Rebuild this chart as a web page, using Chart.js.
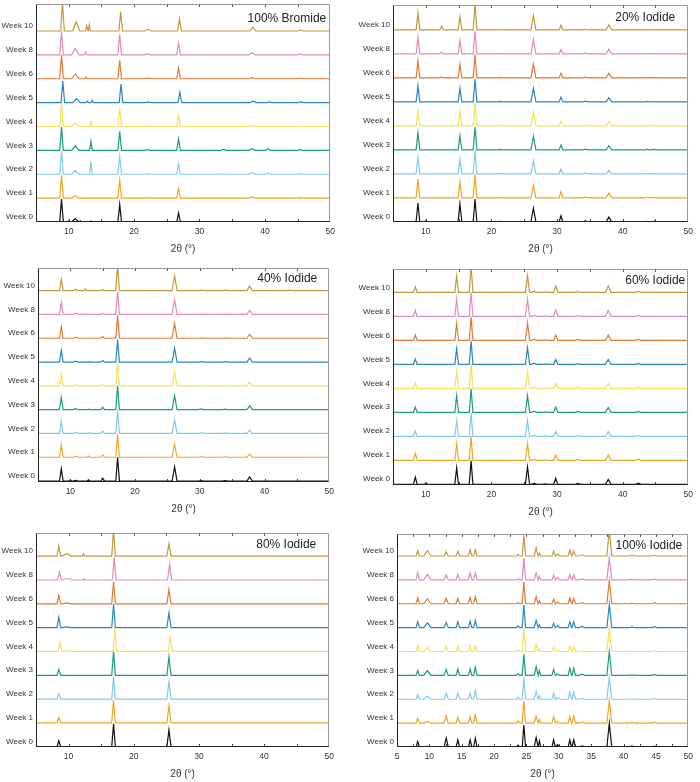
<!DOCTYPE html>
<html>
<head>
<meta charset="utf-8">
<script src="https://cdn.jsdelivr.net/npm/chart.js@4.4.1/dist/chart.umd.min.js"></script>
<style>
  html, body { margin: 0; padding: 0; background: #fff; overflow: hidden; }
  #wrap { position: relative; width: 700px; height: 782px; }
  #wrap canvas { position: absolute; }
</style>
</head>
<body>
<div id="wrap"></div>
<script>
// ---- data ----
const WEEKS = ['Week 0', 'Week 1', 'Week 2', 'Week 3', 'Week 4', 'Week 5', 'Week 6', 'Week 8', 'Week 10'];
const WEEK_COLORS = ['#111111', '#EFA726', '#86C8EC', '#1E9E78', '#F2E25C', '#2E86C1', '#E07A38', '#E08DBB', '#C19A3E'];
const X_TICKS = [10, 20, 30, 40, 50];
const X_TICKS_FIVE = [5, 10, 15, 20, 25, 30, 35, 40, 45, 50];

// 100% Bromide: peak positions (2θ), half widths, heights per week
const BR_POS = [8.9, 10.0, 11.0, 11.8, 12.6, 13.0, 13.4, 17.8, 22.0, 26.8, 33.7, 38.0, 40.5, 45.3];
const BR_HW = [0.28, 0.2, 0.55, 0.2, 0.2, 0.15, 0.2, 0.28, 0.48, 0.28, 0.38, 0.48, 0.38, 0.38];
const BR_SHIFT = [0, 0, 0, 0, 0, 0.2, 0, 0, 0.15];
const BR_H = [
  [0.96, 0.05, 0.14, 0.05, 0, 0, 0.04, 0.73, 0.02, 0.38, 0, 0.02, 0, 0.02],
  [0.96, 0, 0.10, 0, 0, 0, 0, 0.75, 0.02, 0.41, 0, 0.04, 0, 0.03],
  [0.96, 0, 0.16, 0, 0, 0, 0.55, 0.75, 0.03, 0.45, 0.03, 0.06, 0.06, 0.03],
  [0.98, 0, 0.20, 0, 0, 0, 0.37, 0.80, 0.03, 0.48, 0.05, 0.07, 0.07, 0.04],
  [0.96, 0, 0.15, 0, 0, 0, 0.22, 0.78, 0.02, 0.46, 0, 0.05, 0, 0.03],
  [0.90, 0, 0.17, 0, 0.06, 0, 0.10, 0.78, 0.03, 0.44, 0, 0.06, 0.03, 0.04],
  [1.00, 0, 0.20, 0, 0.07, 0, 0, 0.77, 0.03, 0.45, 0, 0.05, 0, 0.03],
  [0.96, 0, 0.27, 0, 0.12, 0, 0, 0.86, 0.05, 0.50, 0, 0.10, 0, 0.04],
  [1.20, 0, 0.38, 0, 0.23, 0.26, 0, 0.80, 0.08, 0.52, 0, 0.16, 0, 0.04]
];

// 20% Iodide
const I20_POS = [8.8, 10.0, 12.4, 15.2, 17.5, 21.4, 26.4, 30.6, 34.3, 37.9, 43.8, 44.8];
const I20_HW = [0.28, 0.2, 0.28, 0.28, 0.28, 0.38, 0.38, 0.28, 0.38, 0.42, 0.25, 0.25];
const I20_SHIFT = [0, 0, 0, 0, 0, 0, 0, 0, 0];
const I20_H = [
  [0.78, 0.04, 0, 0.75, 0.95, 0.02, 0.57, 0.25, 0.04, 0.20, 0.02, 0.03],
  [0.78, 0, 0, 0.67, 0.98, 0.02, 0.53, 0.26, 0.03, 0.20, 0.03, 0.03],
  [0.68, 0, 0, 0.61, 0.98, 0.02, 0.55, 0.20, 0.03, 0.15, 0.02, 0.02],
  [0.71, 0, 0, 0.59, 0.95, 0.02, 0.57, 0.20, 0.03, 0.18, 0.03, 0.03],
  [0.63, 0, 0, 0.59, 0.97, 0.02, 0.56, 0.20, 0.03, 0.18, 0.02, 0.02],
  [0.68, 0, 0, 0.57, 0.95, 0.02, 0.56, 0.20, 0.03, 0.18, 0.02, 0.02],
  [0.71, 0, 0.04, 0.57, 0.99, 0.02, 0.57, 0.20, 0.03, 0.20, 0.02, 0.02],
  [0.70, 0, 0.08, 0.55, 0.97, 0.02, 0.59, 0.18, 0.03, 0.20, 0.02, 0.02],
  [0.71, 0, 0.16, 0.55, 1.10, 0.02, 0.61, 0.20, 0.03, 0.22, 0.02, 0.02]
];

// 40% Iodide
const I40_POS = [8.6, 10.0, 10.8, 12.3, 12.8, 15.0, 17.3, 26.1, 30.2, 33.9, 37.7, 44.0];
const I40_HW = [0.28, 0.2, 0.38, 0.2, 0.2, 0.28, 0.28, 0.38, 0.38, 0.38, 0.42, 0.38];
const I40_SHIFT = [0, 0, 0, 0, 0, 0, 0, 0, 0];
const I40_H = [
  [0.52, 0.04, 0.03, 0, 0.05, 0.12, 1.00, 0.60, 0.02, 0.02, 0.18, 0],
  [0.51, 0, 0.04, 0, 0.05, 0.10, 0.96, 0.55, 0.03, 0.02, 0.13, 0],
  [0.51, 0, 0.05, 0, 0.04, 0.10, 0.99, 0.58, 0.03, 0.02, 0.14, 0],
  [0.52, 0, 0.04, 0, 0.02, 0.10, 1.00, 0.59, 0.03, 0.02, 0.16, 0],
  [0.48, 0, 0.04, 0, 0.02, 0.06, 0.99, 0.58, 0.02, 0.02, 0.16, 0],
  [0.50, 0, 0.04, 0, 0.02, 0.06, 0.96, 0.58, 0.02, 0.02, 0.17, 0],
  [0.48, 0, 0.04, 0, 0.02, 0.07, 0.96, 0.62, 0.02, 0.02, 0.17, 0],
  [0.51, 0, 0.05, 0.04, 0, 0.05, 0.96, 0.62, 0.02, 0.02, 0.17, 0],
  [0.48, 0, 0.05, 0.07, 0, 0.05, 1.10, 0.62, 0.02, 0.02, 0.19, 0.02]
];

// 60% Iodide
const I60_POS = [8.4, 10.0, 14.7, 16.9, 25.5, 26.5, 28.2, 29.8, 33.2, 37.8, 42.4];
const I60_HW = [0.28, 0.2, 0.28, 0.28, 0.32, 0.38, 0.38, 0.32, 0.38, 0.42, 0.38];
const I60_SHIFT = [0, 0, 0, 0, 0, 0, 0, 0, 0];
const I60_H = [
  [0.30, 0.04, 0.68, 0.98, 0.72, 0.05, 0.02, 0.25, 0.04, 0.20, 0.05],
  [0.30, 0, 0.69, 1.00, 0.70, 0.05, 0.02, 0.22, 0.04, 0.22, 0.06],
  [0.22, 0, 0.65, 0.98, 0.68, 0.05, 0.02, 0.20, 0.03, 0.20, 0.04],
  [0.22, 0, 0.70, 0.98, 0.70, 0.05, 0.02, 0.22, 0.04, 0.20, 0.04],
  [0.22, 0, 0.70, 1.00, 0.70, 0.05, 0.02, 0.22, 0.04, 0.20, 0.04],
  [0.22, 0, 0.65, 0.98, 0.70, 0.05, 0.02, 0.20, 0.03, 0.20, 0.04],
  [0.22, 0, 0.70, 0.98, 0.72, 0.05, 0.02, 0.22, 0.04, 0.22, 0.05],
  [0.25, 0, 0.71, 1.00, 0.72, 0.05, 0.02, 0.27, 0.03, 0.25, 0.04],
  [0.23, 0, 0.68, 1.10, 0.70, 0.05, 0.02, 0.26, 0.03, 0.26, 0.04]
];

// 80% Iodide
const I80_POS = [8.5, 9.7, 12.3, 16.9, 25.4];
const I80_HW = [0.28, 0.7, 0.2, 0.28, 0.32];
const I80_SHIFT = [0, 0, 0, 0, 0.2, 0, 0, 0.1, 0];
const I80_H = [
  [0.25, 0, 0, 0.96, 0.71],
  [0.23, 0, 0, 0.96, 0.71],
  [0.23, 0, 0, 0.96, 0.73],
  [0.25, 0, 0, 1.00, 0.77],
  [0.41, 0.03, 0, 0.96, 0.58],
  [0.44, 0.03, 0, 0.99, 0.62],
  [0.36, 0.04, 0, 0.92, 0.60],
  [0.34, 0.07, 0.05, 0.96, 0.65],
  [0.44, 0.10, 0.10, 1.10, 0.52]
];

// 100% Iodide
const I100_POS = [8.2, 9.7, 12.6, 14.4, 16.3, 17.1, 23.7, 24.6, 26.5, 27.0, 29.2, 29.8, 31.7, 32.3, 33.6, 37.8, 41.3, 44.8];
const I100_HW = [0.26, 0.55, 0.32, 0.26, 0.26, 0.26, 0.24, 0.26, 0.3, 0.2, 0.26, 0.3, 0.26, 0.26, 0.45, 0.38, 0.35, 0.35];
const I100_SHIFT = [0, 0, 0, 0, 0, 0, 0, 0, 0];
const I100_H = [
  [0.23, 0.03, 0.37, 0.30, 0.30, 0.37, 0.08, 0.92, 0.40, 0.25, 0.30, 0.10, 0.30, 0.30, 0.05, 0.99, 0.05, 0.04],
  [0.20, 0.07, 0.30, 0.25, 0.27, 0.35, 0.10, 0.95, 0.30, 0.15, 0.27, 0.06, 0.27, 0.30, 0.04, 0.95, 0.04, 0.04],
  [0.20, 0.12, 0.25, 0.25, 0.25, 0.37, 0.08, 0.92, 0.33, 0.15, 0.25, 0.06, 0.30, 0.30, 0.04, 0.92, 0.03, 0.03],
  [0.20, 0.20, 0.25, 0.27, 0.27, 0.35, 0.07, 0.88, 0.37, 0.20, 0.25, 0.06, 0.30, 0.30, 0.05, 1.00, 0.03, 0.04],
  [0.25, 0.17, 0.20, 0.22, 0.27, 0.25, 0.05, 0.97, 0.30, 0.12, 0.20, 0.06, 0.23, 0.20, 0.04, 0.97, 0.03, 0.03],
  [0.25, 0.20, 0.22, 0.25, 0.27, 0.30, 0.08, 0.96, 0.30, 0.12, 0.18, 0.08, 0.25, 0.25, 0.05, 0.96, 0.03, 0.04],
  [0.25, 0.20, 0.22, 0.22, 0.27, 0.30, 0.05, 0.92, 0.30, 0.12, 0.20, 0.06, 0.25, 0.22, 0.05, 0.96, 0.03, 0.05],
  [0.31, 0.23, 0.20, 0.23, 0.30, 0.30, 0.05, 0.93, 0.30, 0.14, 0.20, 0.10, 0.22, 0.22, 0.04, 0.93, 0.03, 0.03],
  [0.22, 0.22, 0.18, 0.20, 0.27, 0.27, 0.07, 0.86, 0.34, 0.12, 0.20, 0.08, 0.25, 0.20, 0.05, 1.10, 0.03, 0.03]
];

// ---- layout (page pixels of each plot box) ----
const PANELS = [
  { title: '100% Bromide', pos: BR_POS, hw: BR_HW, heights: BR_H, shift: BR_SHIFT, ticks: X_TICKS, minor: 5,
    box: { l: 36, r: 334, t: 0, b: 222 }, yMin: 0, yMax: 9.14, inset: 4, dy: 15 },
  { title: '20% Iodide', pos: I20_POS, hw: I20_HW, heights: I20_H, shift: I20_SHIFT, ticks: X_TICKS, minor: 5,
    box: { l: 393, r: 692, t: 1, b: 222 }, yMin: -0.01, yMax: 9.05, inset: 13, dy: 13 },
  { title: '40% Iodide', pos: I40_POS, hw: I40_HW, heights: I40_H, shift: I40_SHIFT, ticks: X_TICKS, minor: 5,
    box: { l: 38, r: 333, t: 264, b: 482 }, yMin: -0.04, yMax: 8.96, inset: 12, dy: 11 },
  { title: '60% Iodide', pos: I60_POS, hw: I60_HW, heights: I60_H, shift: I60_SHIFT, ticks: X_TICKS, minor: 5,
    box: { l: 393, r: 692, t: 265, b: 485 }, yMin: -0.03, yMax: 8.98, inset: 3, dy: 12 },
  { title: '80% Iodide', pos: I80_POS, hw: I80_HW, heights: I80_H, shift: I80_SHIFT, ticks: X_TICKS, minor: 5,
    box: { l: 36, r: 333, t: 529, b: 747 }, yMin: -0.01, yMax: 8.98, inset: 13, dy: 12 },
  { title: '100% Iodide', pos: I100_POS, hw: I100_HW, heights: I100_H, shift: I100_SHIFT, ticks: X_TICKS_FIVE, minor: 2.5,
    box: { l: 397, r: 692, t: 530, b: 747 }, yMin: 0, yMax: 8.93, inset: 6, dy: 12 }
];

const FONT = 'Arial, "Liberation Sans", sans-serif';
const Y_AXIS_W = 40;
const PAD_TOP = 4;
const PAD_RIGHT = 6;
const X_AXIS_H = 36;

function buildTrace(panel, week) {
  const base = week;
  const heights = panel.heights[week];
  const shift = panel.shift[week];
  const pts = [{ x: 5, y: base }];

  panel.pos.forEach((p, i) => {
    const h = heights[i];
    if (!h) return;
    const c = p + shift;
    pts.push({ x: c - panel.hw[i], y: base }, { x: c, y: base + h }, { x: c + panel.hw[i], y: base });
  });

  pts.push({ x: 50, y: base });
  return pts;
}

// frame, inner tick marks and the panel label
const panelDecor = {
  id: 'panelDecor',
  afterDraw(chart, args, opts) {
    const { ctx, chartArea: a, scales: { x } } = chart;
    ctx.save();
    ctx.lineWidth = 1;
    ctx.strokeStyle = '#444';
    for (let v = x.min + opts.minor; v < x.max - 1e-6; v += opts.minor) {
      const px = Math.round(x.getPixelForValue(v)) + 0.5;
      ctx.beginPath();
      ctx.moveTo(px, a.bottom);
      ctx.lineTo(px, a.bottom - 3);
      ctx.moveTo(px, a.top);
      ctx.lineTo(px, a.top + 3);
      ctx.stroke();
    }

    const L = Math.round(a.left) + 0.5, R = Math.round(a.right) - 0.5;
    const T = Math.round(a.top) + 0.5, B = Math.round(a.bottom) - 0.5;
    ctx.strokeStyle = '#9a9a9a';
    ctx.beginPath();
    ctx.moveTo(L, T); ctx.lineTo(R, T); ctx.lineTo(R, B);
    ctx.stroke();
    ctx.strokeStyle = '#222';
    ctx.beginPath();
    ctx.moveTo(L, T); ctx.lineTo(L, B); ctx.lineTo(R, B);
    ctx.stroke();

    ctx.fillStyle = '#222';
    ctx.font = `12px ${FONT}`;
    ctx.textAlign = 'right';
    ctx.textBaseline = 'middle';
    ctx.fillText(opts.text, a.right - opts.inset, a.top + opts.dy);
    ctx.restore();
  }
};

const wrap = document.getElementById('wrap');

PANELS.forEach(panel => {
  const { l, r, t, b } = panel.box;
  const canvas = document.createElement('canvas');
  const w = Y_AXIS_W + (r - l) + PAD_RIGHT;
  const h = PAD_TOP + (b - t) + X_AXIS_H;
  canvas.width = w;
  canvas.height = h;
  canvas.style.left = `${l - Y_AXIS_W}px`;
  canvas.style.top = `${t - PAD_TOP}px`;
  canvas.style.width = `${w}px`;
  canvas.style.height = `${h}px`;
  wrap.appendChild(canvas);

  const datasets = WEEKS.map((label, i) => ({
    label,
    data: buildTrace(panel, i),
    borderColor: WEEK_COLORS[i],
    borderWidth: 1.2,
    pointRadius: 0,
    tension: 0,
    fill: false
  }));

  new Chart(canvas.getContext('2d'), {
    type: 'line',
    data: { datasets },
    options: {
      responsive: false,
      animation: false,
      devicePixelRatio: 1,
      layout: { padding: { left: 0, top: PAD_TOP, right: PAD_RIGHT, bottom: 0 } },
      plugins: {
        legend: { display: false },
        tooltip: { enabled: false },
        panelDecor: { text: panel.title, minor: panel.minor, inset: panel.inset, dy: panel.dy }
      },
      scales: {
        x: {
          type: 'linear',
          min: 5,
          max: 50,
          grid: { display: false, drawTicks: false },
          border: { display: false },
          afterBuildTicks: scale => { scale.ticks = panel.ticks.map(v => ({ value: v })); },
          afterFit: scale => { scale.height = X_AXIS_H; },
          ticks: {
            autoSkip: false,
            maxRotation: 0,
            padding: 5,
            color: '#333',
            font: { family: FONT, size: 8.5 },
            callback: v => String(v)
          },
          title: {
            display: true,
            text: '2θ (°)',
            color: '#333',
            font: { family: FONT, size: 10 },
            padding: { top: 0, bottom: 3 }
          }
        },
        y: {
          type: 'linear',
          min: panel.yMin,
          max: panel.yMax,
          grid: { display: false, drawTicks: false },
          border: { display: false },
          afterBuildTicks: scale => { scale.ticks = WEEKS.map((_, i) => ({ value: i })); },
          afterFit: scale => { scale.width = Y_AXIS_W; },
          ticks: {
            autoSkip: false,
            padding: 3,
            labelOffset: -5,
            color: '#333',
            font: { family: FONT, size: 8 },
            callback: v => WEEKS[v]
          }
        }
      }
    },
    plugins: [panelDecor]
  });
});
</script>
</body>
</html>
